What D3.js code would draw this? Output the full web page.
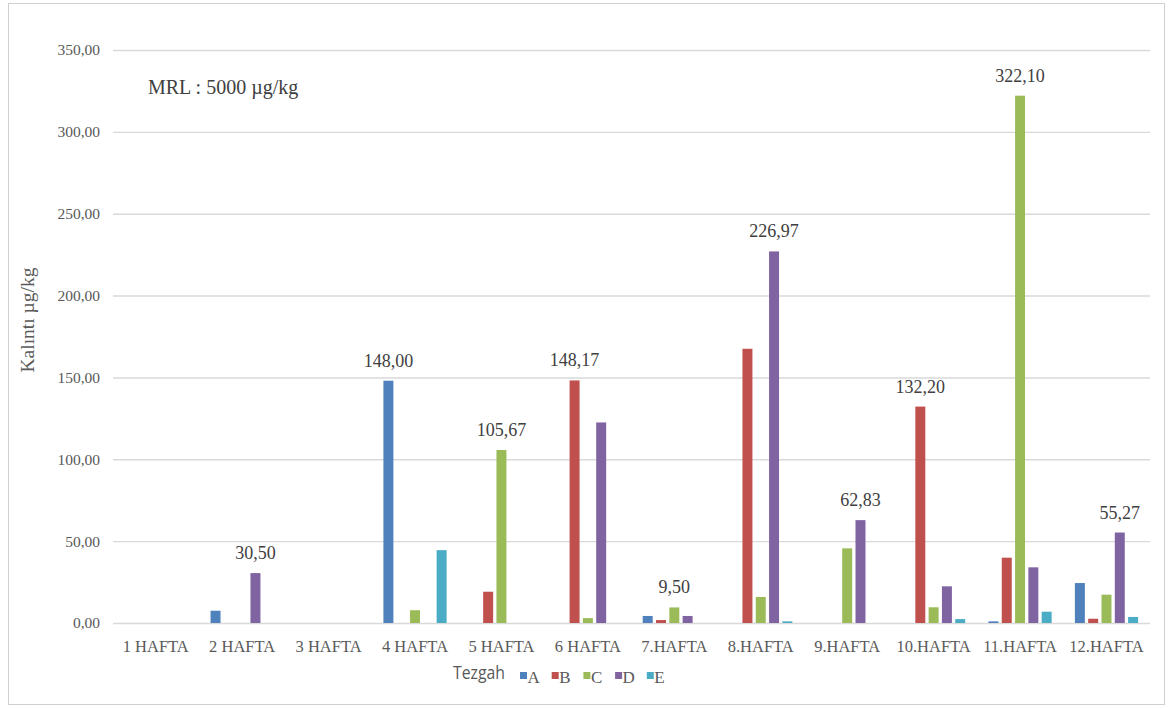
<!DOCTYPE html>
<html>
<head>
<meta charset="utf-8">
<script src="https://cdn.jsdelivr.net/npm/d3@7"></script>
<style>
  body { margin: 0; background: #fff; }
  svg { display: block; }
</style>
</head>
<body>
<svg id="chart" width="1174" height="708"></svg>
<script>
// Weekly residue measurements per stall (µg/kg)
const weeks = ["1 HAFTA", "2 HAFTA", "3 HAFTA", "4 HAFTA", "5 HAFTA", "6 HAFTA",
               "7.HAFTA", "8.HAFTA", "9.HAFTA", "10.HAFTA", "11.HAFTA", "12.HAFTA"];
const stalls = ["A", "B", "C", "D", "E"];
const seriesA = [0, 7.5, 0, 148.00, 0, 0, 4.3, 0, 0, 0, 1.0, 24.4];
const seriesB = [0, 0, 0, 0, 19.1, 148.17, 1.8, 167.5, 0, 132.20, 39.9, 2.6];
const seriesC = [0, 0, 0, 7.8, 105.67, 3.0, 9.50, 15.9, 45.6, 9.6, 322.10, 17.3];
const seriesD = [0, 30.50, 0, 0, 0, 122.5, 4.3, 226.97, 62.83, 22.4, 34.0, 55.27];
const seriesE = [0, 0, 0, 44.5, 0, 0, 0, 1.0, 0, 2.4, 6.9, 3.7];
// Which value in each week carries a label (stall index, or -1 for none)
const labelled = [-1, 3, -1, 0, 2, 1, 2, 3, 3, 1, 2, 3];
const yTicks = [0, 50, 100, 150, 200, 250, 300, 350];
const colors = ["#4F81BD", "#C0504D", "#9BBB59", "#8064A2", "#4BACC6"];

const series = [seriesA, seriesB, seriesC, seriesD, seriesE];
const fmt = v => v.toFixed(2).replace(".", ",");
const serif = "Liberation Serif, Times New Roman, serif";

const svg = d3.select("#chart");
const plot = { left: 112.5, right: 1149.7, top: 50, bottom: 623 };

// Outer chart frame
svg.append("rect")
  .attr("x", 8.5).attr("y", 3.5).attr("width", 1156).attr("height", 701)
  .attr("fill", "#fff").attr("stroke", "#d0d0d0").attr("stroke-width", 1);

const x = d3.scaleBand().domain(weeks).range([plot.left, plot.right]);
const groupWidth = 63.2;
const xInner = d3.scaleBand().domain(stalls).range([0, groupWidth]).paddingInner(0.25);
const y = d3.scaleLinear().domain([0, 350]).range([plot.bottom, plot.top]);

// Gridlines
svg.append("g").selectAll("line").data(yTicks).join("line")
  .attr("x1", 113).attr("x2", 1150)
  .attr("y1", d => y(d) + 0.5).attr("y2", d => y(d) + 0.5)
  .attr("stroke", "#d9d9d9").attr("stroke-width", 1.4);

// Y axis labels
const yAxis = d3.axisLeft(y).tickValues(yTicks).tickFormat(fmt).tickSize(0).tickPadding(13);
const gy = svg.append("g").attr("transform", `translate(113,0)`).call(yAxis);
gy.select(".domain").remove();
gy.selectAll("text")
  .attr("font-family", serif)
  .attr("font-size", 15.5).attr("fill", "#595959");

// X axis labels
const xAxis = d3.axisBottom(x).tickSize(0).tickPadding(17);
const gx = svg.append("g").attr("transform", `translate(0,${plot.bottom})`).call(xAxis);
gx.select(".domain").remove();
gx.selectAll("text")
  .attr("font-family", serif)
  .attr("font-size", 16.5).attr("fill", "#595959");

// Bars
const groupOffset = (x.bandwidth() - groupWidth) / 2;
const groups = svg.append("g").selectAll("g").data(weeks).join("g")
  .attr("transform", d => `translate(${x(d) + groupOffset},0)`);

groups.selectAll("rect")
  .data((w, i) => stalls.map((s, j) => ({ s, j, v: series[j][i] })))
  .join("rect")
  .attr("x", d => xInner(d.s))
  .attr("width", xInner.bandwidth())
  .attr("y", d => y(d.v))
  .attr("height", d => y(0) - y(d.v))
  .attr("fill", d => colors[d.j]);

// Value labels
groups.each(function (w, i) {
  const j = labelled[i];
  if (j < 0) return;
  const v = series[j][i];
  d3.select(this).append("text")
    .attr("x", xInner(stalls[j]) + xInner.bandwidth() / 2)
    .attr("y", y(v) - 14)
    .attr("text-anchor", "middle")
    .attr("font-family", serif)
    .attr("font-size", 18).attr("fill", "#404040")
    .text(fmt(v));
});

// Y axis title
svg.append("text")
  .attr("transform", "translate(34,320) rotate(-90)")
  .attr("text-anchor", "middle")
  .attr("font-family", serif)
  .attr("font-size", 19.5).attr("fill", "#595959")
  .text("Kalıntı µg/kg");

// MRL note
svg.append("text")
  .attr("x", 148).attr("y", 94)
  .attr("font-family", serif)
  .attr("font-size", 20).attr("fill", "#404040")
  .text("MRL : 5000 µg/kg");

// Legend
const legend = svg.append("g");
legend.append("text")
  .attr("x", 453).attr("y", 679)
  .attr("font-family", "Open Sans, Liberation Sans, sans-serif")
  .attr("font-size", 19).attr("fill", "#595959")
  .attr("textLength", 52).attr("lengthAdjust", "spacingAndGlyphs")
  .text("Tezgah");
const items = legend.selectAll("g.item").data(stalls).join("g")
  .attr("class", "item")
  .attr("transform", (d, i) => `translate(${520 + i * 31.7},0)`);
items.append("rect").attr("x", 0).attr("y", 672).attr("width", 7).attr("height", 7)
  .attr("fill", (d, i) => colors[i]);
items.append("text").attr("x", 7.5).attr("y", 683)
  .attr("font-family", serif)
  .attr("font-size", 17).attr("fill", "#595959")
  .text(d => d);
</script>
</body>
</html>
